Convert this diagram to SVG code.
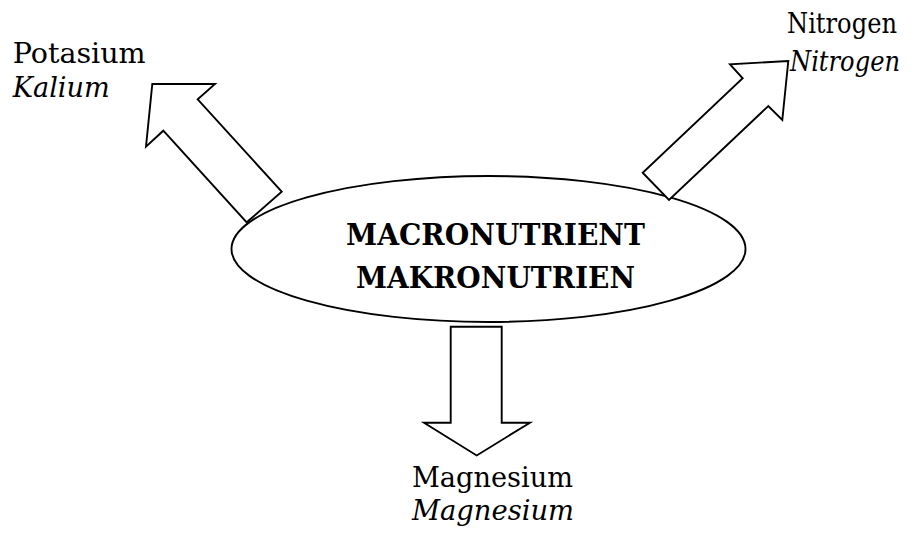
<svg xmlns="http://www.w3.org/2000/svg" width="911" height="540" viewBox="0 0 911 540">
<style>
.shape{fill:#fff;stroke:#000;stroke-width:1.9;stroke-linejoin:miter}
.lbl{font-family:"DejaVu Serif","Liberation Serif",serif;font-size:27px;fill:#000}
.it{font-style:italic}
.bold{font-family:"DejaVu Serif","Liberation Serif",serif;font-size:29px;font-weight:bold;fill:#000}
</style>
<rect width="911" height="540" fill="#fff"/>
<g id="center">
<ellipse class="shape" cx="488.5" cy="249" rx="257" ry="73"/>
<text class="bold" x="346" y="245" textLength="299" lengthAdjust="spacingAndGlyphs">MACRONUTRIENT</text>
<text class="bold" x="356" y="288" textLength="279" lengthAdjust="spacingAndGlyphs">MAKRONUTRIEN</text>
</g>
<g id="connectors">
<polygon id="arrow-potasium" class="shape" points="152.3,84 215,84 197.7,99.3 281.7,191.7 246.7,222.3 163.3,130.7 146,146.7"/>
<polygon id="arrow-nitrogen" class="shape" points="788.3,61 730,64.3 742.7,78.3 642.7,172.7 669,200 768.3,106 782.3,120"/>
<polygon id="arrow-magnesium" class="shape" points="450.7,326.7 501.7,326.7 501.7,422.7 530,422.7 476.7,455.5 424,422.7 450.7,422.7"/>
</g>
<g id="potasium">
<text class="lbl" x="12.7" y="63" textLength="133" lengthAdjust="spacingAndGlyphs">Potasium</text>
<text class="lbl it" x="12.7" y="97" textLength="97" lengthAdjust="spacingAndGlyphs">Kalium</text>
</g>
<g id="nitrogen">
<text class="lbl" x="787" y="33" textLength="110" lengthAdjust="spacingAndGlyphs">Nitrogen</text>
<text class="lbl it" x="790" y="71" textLength="110" lengthAdjust="spacingAndGlyphs">Nitrogen</text>
</g>
<g id="magnesium">
<text class="lbl" x="412" y="487" textLength="161" lengthAdjust="spacingAndGlyphs">Magnesium</text>
<text class="lbl it" x="412" y="520" textLength="162" lengthAdjust="spacingAndGlyphs">Magnesium</text>
</g>
</svg>
